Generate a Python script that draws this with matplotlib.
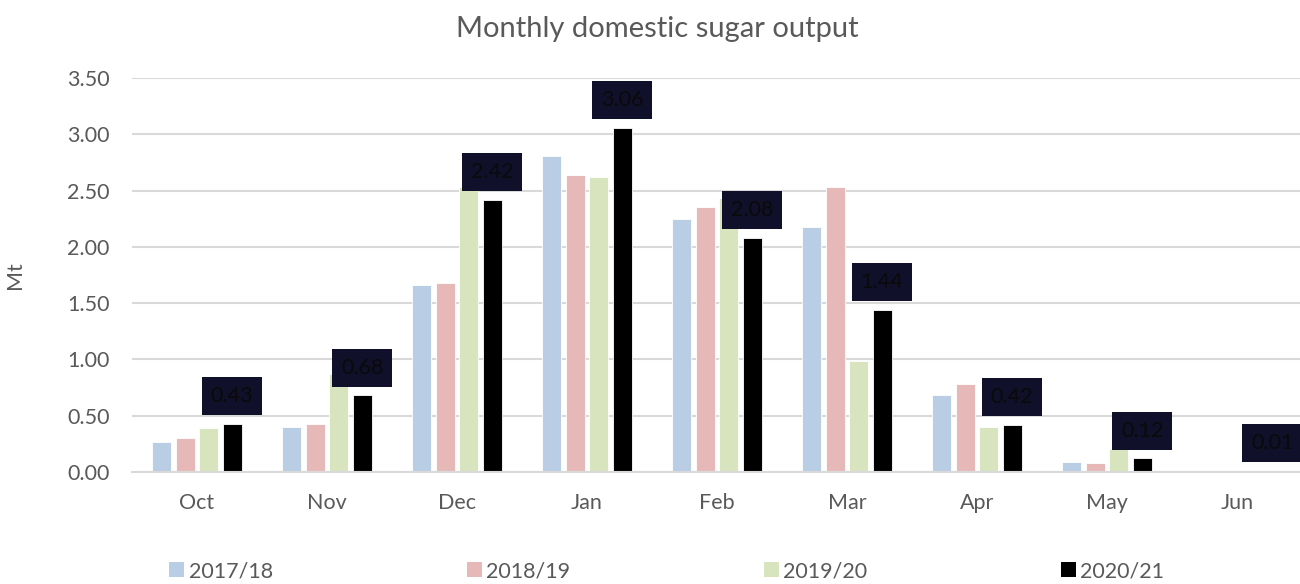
import numpy as np
import matplotlib
matplotlib.use("Agg")
import matplotlib.pyplot as plt
from matplotlib.patches import Patch

plt.rcParams['font.family'] = ['Lato', 'DejaVu Sans']

months = ["Oct", "Nov", "Dec", "Jan", "Feb", "Mar", "Apr", "May", "Jun"]
seasons = ["2017/18", "2018/19", "2019/20", "2020/21"]

s2017 = [0.27, 0.40, 1.66, 2.81, 2.25, 2.18, 0.68, 0.09, 0.005]
s2018 = [0.30, 0.43, 1.68, 2.64, 2.35, 2.53, 0.78, 0.08, 0.0]
s2019 = [0.39, 0.87, 2.53, 2.62, 2.43, 0.99, 0.40, 0.20, 0.005]
s2020 = [0.43, 0.68, 2.42, 3.06, 2.08, 1.44, 0.42, 0.12, 0.01]

colors = ["#B9CDE5", "#E6B9B8", "#D7E4BD", "#000000"]
grey = "#595959"

fig = plt.figure(figsize=(13, 5.84), dpi=100)
ax = fig.add_axes([132 / 1300, 112 / 584, 1170 / 1300, 394 / 584])

x = np.arange(len(months))
step = 0.18
width = 0.145
series = [s2017, s2018, s2019, s2020]
for i, (vals, c) in enumerate(zip(series, colors)):
    ax.bar(x + (i - 1.5) * step, vals, width, color=c, edgecolor="white",
           linewidth=0.6, zorder=3, label=seasons[i])

# labels for 2020/21
for xi, v in zip(x + 1.5 * step, s2020):
    ax.annotate(f"{v:.2f}", (xi, v), xytext=(0, 20), textcoords="offset points",
                ha="center", va="center", fontsize=15.5, color="#0a0a0a",
                bbox=dict(boxstyle="square,pad=0.42", fc="#10102A", ec="none"),
                zorder=5)

ax.set_xlim(-0.5, 8.5)
ax.set_ylim(0, 3.5)
ax.set_yticks(np.arange(0, 3.51, 0.5))
ax.set_yticklabels([f"{t:.2f}" for t in np.arange(0, 3.51, 0.5)])
ax.set_xticks(x)
ax.set_xticklabels(months)
ax.tick_params(axis="both", length=0, labelsize=15.5, labelcolor=grey)
ax.tick_params(axis="y", pad=16)
ax.tick_params(axis="x", pad=15)
ax.yaxis.grid(True, color="#D9D9D9", linewidth=1.5, zorder=0)
for s in ["top", "right", "left"]:
    ax.spines[s].set_visible(False)
ax.spines["bottom"].set_color("#D9D9D9")
ax.spines["bottom"].set_linewidth(1.5)
ax.spines["bottom"].set_zorder(4)

ax.set_ylabel("Mt", fontsize=15.5, color=grey, labelpad=30)
fig.text(0.506, 0.951, "Monthly domestic sugar output", ha="center", va="center",
         fontsize=21, color=grey)

handles = [Patch(facecolor=c, edgecolor="none") for c in colors]
fig.legend(handles, seasons, loc="center", bbox_to_anchor=(0.513, 0.022), ncol=4,
           frameon=False, fontsize=15.5, labelcolor=grey, handlelength=0.7,
           handleheight=0.7, handletextpad=0.2, columnspacing=9.0)

fig.savefig("out.png", dpi=100)
